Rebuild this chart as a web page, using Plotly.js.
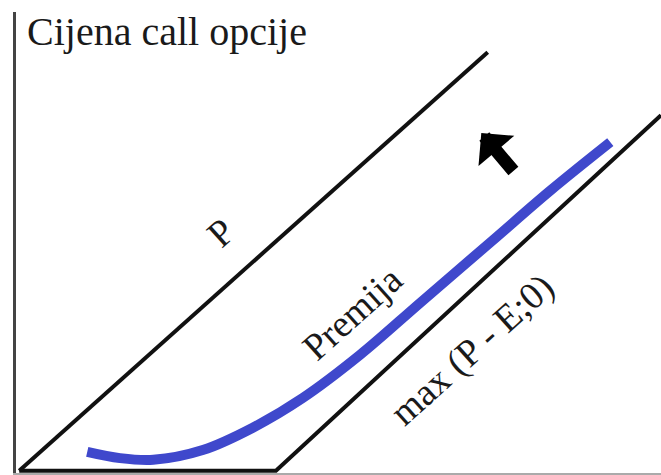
<!DOCTYPE html>
<html>
<head>
<meta charset="utf-8">
<script src="https://cdn.plot.ly/plotly-3.0.1.min.js"></script>
<style>
  html, body { margin: 0; padding: 0; background: #fff; }
  #chart { width: 661px; height: 475px; }
</style>
</head>
<body>
<div id="chart"></div>
<script>
// underlying price P vs call price
const pLineX = [0, 7.3];
const pLineY = [0, 7.3];
const maxLineX = [0, 4, 10];
const maxLineY = [0, 0, 6.2];
// premium curve
const premX = [1.06, 1.57, 2.09, 2.86, 3.64, 4.42, 5.31, 6.25, 7.38, 8.27, 9.21];
const premY = [0.33, 0.22, 0.19, 0.36, 0.75, 1.27, 2.02, 2.93, 4.02, 4.88, 5.73];

const titleText = 'Cijena call opcije';
const labels = [
  { text: 'P', x: 3.13, y: 4.15 },
  { text: 'Premija', x: 5.19, y: 2.75 },
  { text: 'max (P - E;0)', x: 7.06, y: 2.11 }
];
const arrowTip = [7.2, 5.89];
const arrowTail = [7.72, 5.2];

const serif = 'Liberation Serif, Times New Roman, serif';

const traces = [
  {
    x: pLineX, y: pLineY, mode: 'lines',
    line: { color: '#111', width: 4 }, hoverinfo: 'skip'
  },
  {
    x: maxLineX, y: maxLineY, mode: 'lines',
    line: { color: '#111', width: 4 }, hoverinfo: 'skip'
  },
  {
    x: premX, y: premY, mode: 'lines',
    line: { color: '#3f48cc', width: 10, shape: 'spline', smoothing: 1 },
    hoverinfo: 'skip'
  }
];

const annotations = labels.map(l => ({
  text: l.text, x: l.x, y: l.y, xref: 'x', yref: 'y',
  showarrow: false, textangle: -42,
  font: { family: serif, size: 38, color: '#1a1a1a' }
}));

annotations.push({
  text: titleText, xref: 'paper', yref: 'paper', x: 0.014, y: 1.01,
  xanchor: 'left', yanchor: 'top', showarrow: false,
  font: { family: serif, size: 40, color: '#1a1a1a' }
});

annotations.push({
  text: '', x: arrowTip[0], y: arrowTip[1], xref: 'x', yref: 'y',
  ax: arrowTail[0], ay: arrowTail[1], axref: 'x', ayref: 'y',
  showarrow: true, arrowhead: 1, arrowsize: 0.6, arrowwidth: 13,
  arrowcolor: '#000'
});

const layout = {
  width: 661, height: 475,
  margin: { l: 16, r: 0, t: 12, b: 2 },
  paper_bgcolor: '#fff', plot_bgcolor: '#fff',
  showlegend: false,
  xaxis: {
    range: [-0.05, 10], showgrid: false, zeroline: false,
    showticklabels: false, ticks: '', showline: true,
    linecolor: '#aaa', linewidth: 2, fixedrange: true
  },
  yaxis: {
    range: [-0.04, 8], showgrid: false, zeroline: false,
    showticklabels: false, ticks: '', showline: true,
    linecolor: '#444', linewidth: 3, fixedrange: true
  },
  annotations: annotations
};

Plotly.newPlot('chart', traces, layout, { displayModeBar: false, staticPlot: true });
</script>
</body>
</html>
